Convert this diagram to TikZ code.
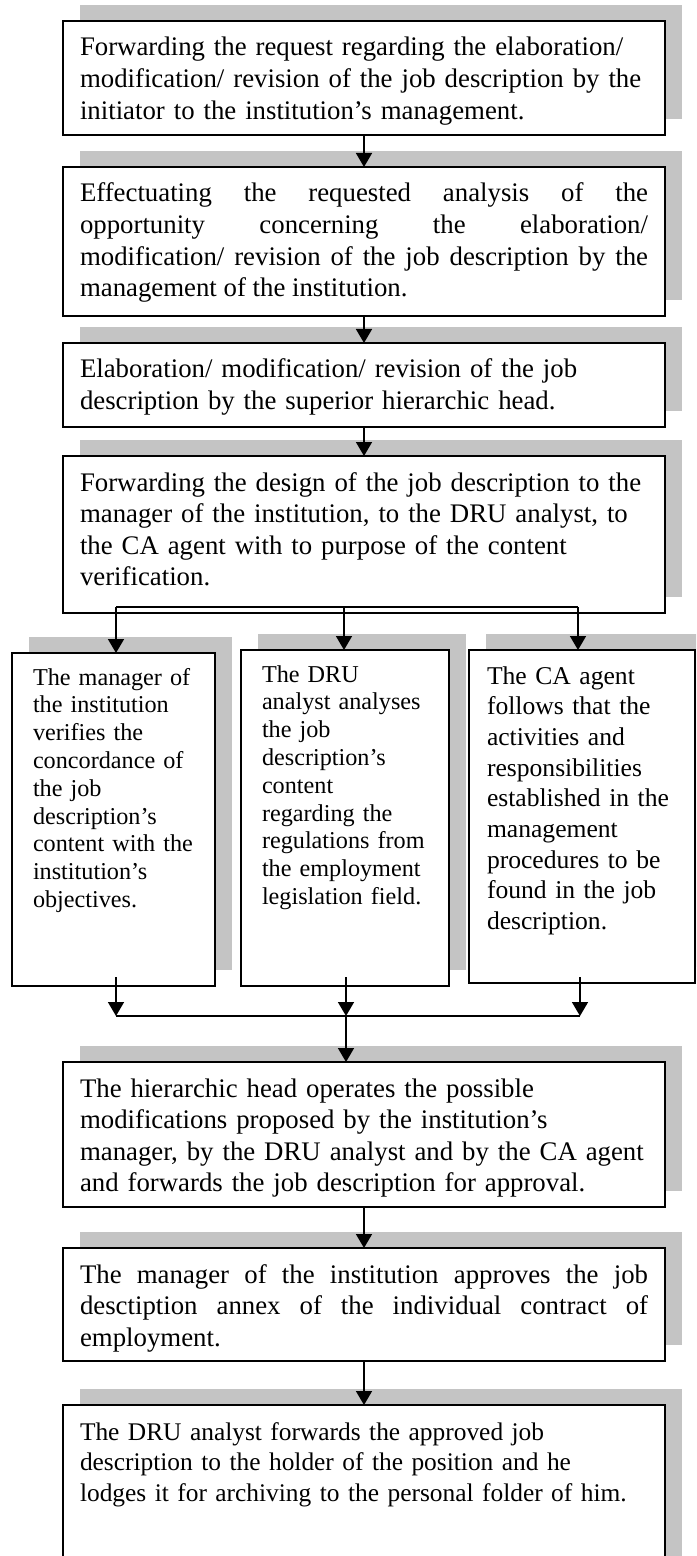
\documentclass[tikz,border=0pt]{standalone}
\usepackage{fontspec}
\setmainfont{Liberation Serif}
\usetikzlibrary{arrows.meta,positioning,shadows}
\definecolor{shadowgray}{HTML}{C4C4C4}
\hyphenpenalty=10000
\exhyphenpenalty=10000

\begin{document}
\begin{tikzpicture}[x=0.5pt,y=-0.5pt,>={Triangle[length=7pt,width=8pt]},
  stepbox/.style={draw,line width=1.2pt,fill=white,outer sep=0pt,inner ysep=0pt,anchor=north west,
    drop shadow={shadow xshift=8.5pt,shadow yshift=8pt,fill=shadowgray,draw=none,opacity=1}},
  mainbox/.style={stepbox,inner xsep=8.5pt,text width=284pt,text height=17.5pt,font=\fontsize{13.4}{15.8}\selectfont},
  narrowbox/.style={stepbox,inner xsep=10.5pt,text height=16pt,align=left,font=\fontsize{12.1}{13.9}\selectfont},
  flow/.style={line width=0.8pt}]
\useasboundingbox (0,0) rectangle (696,1556);
\clip (0,0) rectangle (696,1556);

% main chain
\node[mainbox,align=left,text depth=39.5pt] (fwdreq) at (63,21) {Forwarding the request regarding the elaboration/\\ modification/ revision of the job description by the\\ initiator to the institution’s management.};
\node[mainbox,align=justify,text depth=57pt,below=16pt of fwdreq] (analysis) {Effectuating the requested analysis of the\linebreak opportunity concerning the elaboration/\linebreak modification/ revision of the job description by the\linebreak management of the institution.};
\node[mainbox,align=left,text depth=24.5pt,below=13.5pt of analysis] (elab) {Elaboration/ modification/ revision of the job\\ description by the superior hierarchic head.};
\node[mainbox,align=left,text depth=61pt,below=14.5pt of elab] (design) {Forwarding the design of the job description to the\\ manager of the institution, to the DRU analyst, to\\ the CA agent with to purpose of the content\\ verification.};

% the three checks
\node[narrowbox,text width=80.5pt,text depth=150.5pt] (mgr) at (12,653) {The manager of\\ the institution\\ verifies the\\ concordance of\\ the job\\ description’s\\ content with the\\ institution’s\\ objectives.};
\node[narrowbox,text width=83pt,text depth=152pt] (dru) at (241,650) {The DRU\\ analyst analyses\\ the job\\ description’s\\ content\\ regarding the\\ regulations from\\ the employment\\ legislation field.};
\node[narrowbox,inner xsep=9pt,text width=95pt,text height=17pt,text depth=149.5pt,font=\fontsize{12.8}{15.35}\selectfont] (cag) at (469,650) {The CA agent\\ follows that the\\ activities and\\ responsibilities\\ established in the\\ management\\ procedures to be\\ found in the job\\ description.};

\node[mainbox,align=left,text depth=55pt] (hdmod) at (63,1062) {The hierarchic head operates the possible\\ modifications proposed by the institution’s\\ manager, by the DRU analyst and by the CA agent\\ and forwards the job description for approval.};
\node[mainbox,align=justify,text depth=39pt,below=20.5pt of hdmod] (approve) {The manager of the institution approves the job\linebreak desctiption annex of the individual contract of\linebreak employment.};
\node[mainbox,align=left,text depth=100pt,font=\fontsize{12.7}{15.4}\selectfont,below=22pt of approve] (archive) {The DRU analyst forwards the approved job\\ description to the holder of the position and he\\ lodges it for archiving to the personal folder of him.};

% split and merge points
\coordinate (brL) at (116,607); \coordinate (brM) at (344,607); \coordinate (brR) at (578,607);
\coordinate (outL) at (116,977); \coordinate (outM) at (346,977); \coordinate (outR) at (580,977);
\coordinate (jnL) at (116,1016); \coordinate (jnM) at (346,1016); \coordinate (jnR) at (580,1016);

\draw[flow,->] (fwdreq)--(analysis); \draw[flow,->] (analysis)--(elab); \draw[flow,->] (elab)--(design);
\draw[flow] (brL)--(brR);
\draw[flow,->] (brL)--(brL |- mgr.north); \draw[flow,->] (brM)--(brM |- dru.north); \draw[flow,->] (brR)--(brR |- cag.north);
\draw[flow,->] (outL)--(jnL); \draw[flow,->] (outM)--(jnM); \draw[flow,->] (outR)--(jnR);
\draw[flow] (jnL)--(jnR);
\draw[flow,->] (jnM)--(jnM |- hdmod.north);
\draw[flow,->] (hdmod)--(approve); \draw[flow,->] (approve)--(archive);
\end{tikzpicture}
\end{document}
